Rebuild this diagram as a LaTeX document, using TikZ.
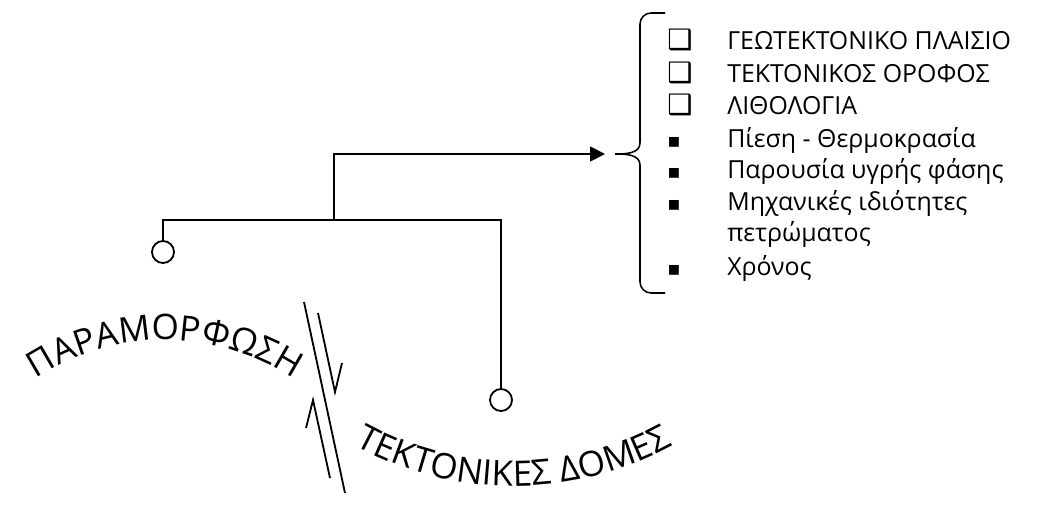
\documentclass[tikz,border=0pt]{standalone}
\usepackage{fontspec}
\setmainfont{Open Sans}
\newfontfamily\symfont{DejaVu Sans}
\usetikzlibrary{arrows.meta,decorations.text}
\newcommand\arcfont{\fontsize{25}{30}\selectfont}

\begin{document}
\begin{tikzpicture}[x=0.025cm,y=-0.025cm,>=Latex,
wire/.style={line width=1.3pt},
pin circle/.style={draw,circle,line width=1.3pt,minimum size=5.5mm,inner sep=0pt},
flow/.style={-{Triangle[length=10.5pt,width=10.5pt]},line width=1.3pt},
brace line/.style={line width=1.1pt},
fault/.style={line width=1.3pt},
list item/.style={anchor=base west,inner sep=0pt,font=\fontsize{17.7}{21}\selectfont},
list box/.style={anchor=base west,inner sep=0pt,font=\symfont\fontsize{20}{22}\selectfont},
list mark/.style={anchor=base west,inner sep=0pt,font=\symfont\fontsize{14}{16}\selectfont},
arc text/.style={decorate,decoration={text along path,text align=center,text={|\arcfont|#1}}}]
\useasboundingbox (0,0) rectangle (1050,505);
\node[pin circle] (c1) at (163,252) {};
\node[pin circle] (c2) at (501,400) {};
\coordinate (j) at (334,220);
\coordinate (tip) at (605,154);
\coordinate (bt) at (615,154);
\draw[wire] (c1.north) |- (c2.north |- j) -- (c2.north);
\draw[flow] (j) |- (tip);
\draw[brace line] (665,13) -- (651,13) to[out=180,in=90] (640,24) -- (640,143) to[out=-90,in=0] (bt)
  to[out=0,in=90] (640,165) -- (640,282) to[out=-90,in=180] (651,293) -- (665,293);
\node[list box] (m1) at (667,50) {❑};
\node[list box] (m2) at (667,83) {❑};
\node[list box] (m3) at (667,115) {❑};
\node[list mark] (m4) at (667,147) {▪};
\node[list mark] (m5) at (667,178) {▪};
\node[list mark] (m6) at (667,210) {▪};
\node[list mark] (m7) at (667,275) {▪};
\node[list item] (t1) at (727,50) {ΓΕΩΤΕΚΤΟΝΙΚΟ ΠΛΑΙΣΙΟ};
\node[list item] (t2) at (727,83) {ΤΕΚΤΟΝΙΚΟΣ ΟΡΟΦΟΣ};
\node[list item] (t3) at (727,115) {ΛΙΘΟΛΟΓΙΑ};
\node[list item] (t4) at (727,147) {Πίεση - Θερμοκρασία};
\node[list item] (t5) at (727,178) {Παρουσία υγρής φάσης};
\node[list item] (t6) at (727,210) {Μηχανικές ιδιότητες};
\node[list item] (t7) at (727,241) {πετρώματος};
\node[list item] (t8) at (727,275) {Χρόνος};
\draw[fault] (304,302) -- (345,493);
\draw[fault] (318,313) -- (335,392) -- (342,363);
\draw[fault] (306,428) -- (313,400) -- (330,478);
\path[arc text=ΠΑΡΑΜΟΡΦΩΣΗ] (165,575) ++(-130:235) arc[start angle=-130,end angle=-50,radius=235];
\path[arc text=ΤΕΚΤΟΝΙΚΕΣ ΔΟΜΕΣ] (514,156) ++(125:330) arc[start angle=125,end angle=55,radius=330];
\end{tikzpicture}
\end{document}
